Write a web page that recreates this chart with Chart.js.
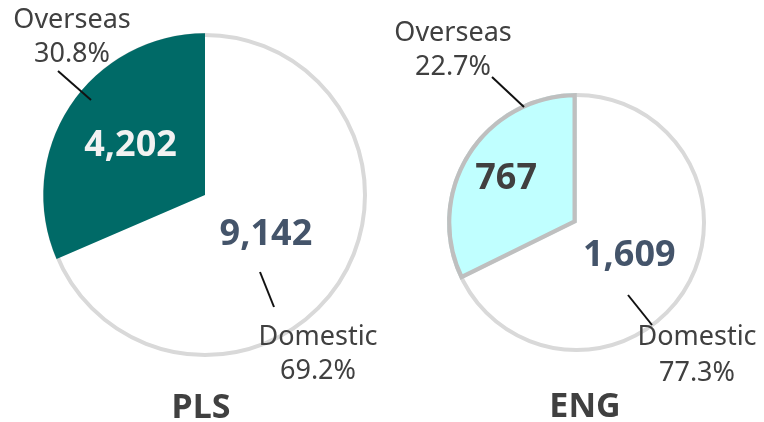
<!DOCTYPE html>
<html>
<head>
<meta charset="utf-8">
<script src="https://cdn.jsdelivr.net/npm/chart.js@4.4.1/dist/chart.umd.min.js"></script>
<style>
  html,body{margin:0;padding:0;background:#fff;}
  #wrap{position:relative;width:764px;height:422px;overflow:hidden;}
  .c{position:absolute;left:0;top:0;width:764px;height:422px;}
</style>
</head>
<body>
<div id="wrap">
  <div class="c"><canvas id="pls"></canvas></div>
  <div class="c"><canvas id="eng"></canvas></div>
</div>
<script>
// data
const categories = ["Domestic", "Overseas"];
const plsValues = [9142, 4202];
const engValues = [1609, 767];
const plsShares = ["69.2%", "30.8%"];
const engShares = ["77.3%", "22.7%"];
const chartTitles = ["PLS", "ENG"];

const FONT = "'Noto Sans', 'Open Sans', sans-serif";
const GREY = "#404040";

// outline ring under the slices (domestic slice is see-through),
// then value labels, leader lines, category labels and title
const pieLabels = {
  id: "pieLabels",
  beforeDatasetsDraw(chart, args, o) {
    const arc = chart.getDatasetMeta(0).data[0];
    const p = arc.getProps(["x", "y", "outerRadius"], true);
    const ctx = chart.ctx;
    ctx.save();
    ctx.strokeStyle = "#d9d9d9";
    ctx.lineWidth = 4;
    ctx.beginPath();
    ctx.arc(p.x, p.y, p.outerRadius - 2, 0, Math.PI * 2);
    ctx.stroke();
    ctx.restore();
  },
  afterDatasetsDraw(chart, args, o) {
    const ctx = chart.ctx;
    const meta = chart.getDatasetMeta(0);
    const vals = chart.data.datasets[0].data;
    ctx.save();
    ctx.textAlign = "center";
    ctx.textBaseline = "middle";
    meta.data.forEach((arc, i) => {
      const p = arc.getProps(["x", "y", "startAngle", "endAngle", "outerRadius"], true);
      const mid = (p.startAngle + p.endAngle) / 2;
      const r = p.outerRadius * o.valueDist[i];
      ctx.font = "bold 36px " + FONT;
      ctx.fillStyle = o.valueColors[i];
      ctx.fillText(vals[i].toLocaleString("en-US"), p.x + Math.cos(mid) * r, p.y + Math.sin(mid) * r);

      const L = o.leaders[i];
      ctx.strokeStyle = "#111";
      ctx.lineWidth = 2;
      ctx.beginPath();
      ctx.moveTo(L[0], L[1]);
      ctx.lineTo(L[2], L[3]);
      ctx.stroke();

      const T = o.labelPos[i];
      ctx.font = "27px " + FONT;
      ctx.fillStyle = GREY;
      ctx.fillText(categories[i], T[0], T[1]);
      ctx.fillText(o.shares[i], T[2], T[3]);
    });
    ctx.font = "bold 34px " + FONT;
    ctx.fillStyle = GREY;
    ctx.fillText(o.title, o.titlePos[0], o.titlePos[1]);
    ctx.restore();
  }
};

function makePie(id, values, colors, borders, bw, padding, labelOpts) {
  return new Chart(document.getElementById(id), {
    type: "pie",
    data: {
      labels: categories,
      datasets: [{
        data: values,
        backgroundColor: colors,
        borderColor: borders,
        borderWidth: bw,
        borderAlign: "inner"
      }]
    },
    options: {
      responsive: true,
      maintainAspectRatio: false,
      animation: false,
      events: [],
      layout: { padding: padding },
      plugins: { legend: { display: false }, tooltip: { enabled: false }, pieLabels: labelOpts }
    },
    plugins: [pieLabels]
  });
}

makePie("pls", plsValues, ["rgba(255,255,255,0)", "#006a67"], ["rgba(0,0,0,0)", "#006a67"], [0, 0],
  { left: 43, right: 397, top: 33, bottom: 65 },
  {
    valueDist: [0.45, 0.55],
    valueColors: ["#44546a", "#f2f2f2"],
    leaders: [[260, 272, 274, 307], [58, 71, 91, 100]],
    labelPos: [[318, 337, 318, 371], [72, 20, 72, 54]],
    shares: plsShares,
    title: chartTitles[0],
    titlePos: [201, 408]
  });

makePie("eng", engValues, ["rgba(255,255,255,0)", "#c0ffff"], ["rgba(0,0,0,0)", "#bfbfbf"], [0, 4],
  { left: 447, right: 58, top: 93, bottom: 70 },
  {
    valueDist: [0.48, 0.64],
    valueColors: ["#44546a", "#404040"],
    leaders: [[628, 295, 652, 325], [492, 77, 524, 107]],
    labelPos: [[697, 337, 697, 373], [453, 33, 453, 67]],
    shares: engShares,
    title: chartTitles[1],
    titlePos: [585, 407]
  });
</script>
</body>
</html>
